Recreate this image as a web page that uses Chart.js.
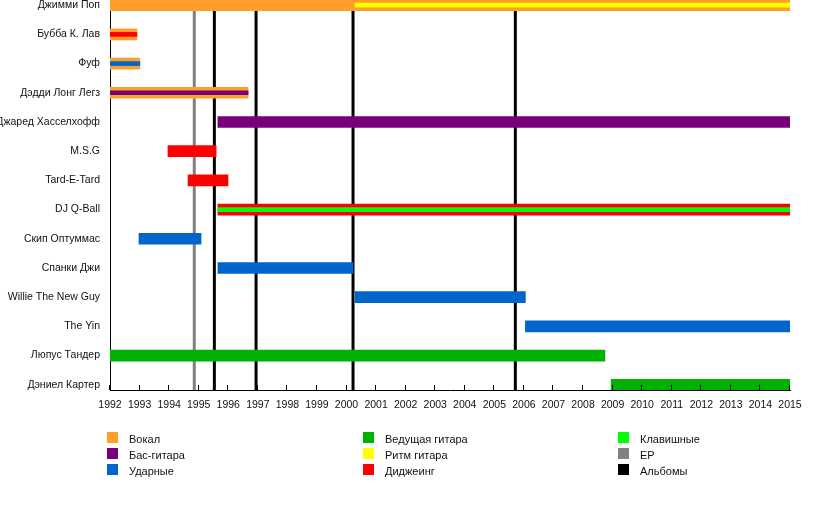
<!DOCTYPE html>
<html>
<head>
<meta charset="utf-8">
<script src="https://cdn.jsdelivr.net/npm/chart.js@4/dist/chart.umd.min.js"></script>
<style>
  html, body { margin: 0; padding: 0; background: #fff; }
  #wrap { position: relative; width: 818px; height: 508px; overflow: hidden; }
  canvas { position: absolute; left: 0; top: 0; }
  .lg { position: absolute; font-family: "Liberation Sans", Arial, sans-serif; font-size: 11px; color: #111; white-space: nowrap; line-height: 13px; }
  .sw { position: absolute; width: 11px; height: 11px; }
</style>
</head>
<body>
<div id="wrap">
  <canvas id="c" width="818" height="508"></canvas>
  <div id="legend"></div>
</div>
<script>
// ---- data ----
const members = ["Джимми Поп", "Бубба К. Лав", "Фуф", "Дэдди Лонг Легз", "Джаред Хасселхофф", "M.S.G", "Tard-E-Tard", "DJ Q-Ball", "Скип Оптуммас", "Спанки Джи", "Willie The New Guy", "The Yin", "Люпус Тандер", "Дэниел Картер"];
const yearTicks = [1992, 1993, 1994, 1995, 1996, 1997, 1998, 1999, 2000, 2001, 2002, 2003, 2004, 2005, 2006, 2007, 2008, 2009, 2010, 2011, 2012, 2013, 2014, 2015];

// main bars: [member, start, end]
const vocalSpans = [["Джимми Поп", 1992, 2015], ["Бубба К. Лав", 1992, 1992.91], ["Фуф", 1992, 1993.01], ["Дэдди Лонг Легз", 1992, 1996.67]];
const bassSpans = [["Джаред Хасселхофф", 1995.65, 2015]];
const djSpans = [["M.S.G", 1993.96, 1995.59], ["Tard-E-Tard", 1994.64, 1995.99], ["DJ Q-Ball", 1995.65, 2015]];
const drumSpans = [["Скип Оптуммас", 1992.98, 1995.08], ["Спанки Джи", 1995.65, 2000.22], ["Willie The New Guy", 2000.29, 2006.05], ["The Yin", 2006.05, 2015]];
const leadSpans = [["Люпус Тандер", 1992, 2008.74], ["Дэниел Картер", 2008.95, 2015]];

// secondary roles (thin stripes)
const rhythmStripes = [["Джимми Поп", 2000.29, 2015]];
const djStripes = [["Бубба К. Лав", 1992, 1992.91]];
const drumStripes = [["Фуф", 1992, 1993.01]];
const bassStripes = [["Дэдди Лонг Легз", 1992, 1996.67]];
const keysStripes = [["DJ Q-Ball", 1995.65, 2015]];

// release markers
const epYears = [1994.85];
const albumYears = [1995.53, 1996.94, 2000.22, 2005.71];

// legend
const legendLabels = [["Вокал", "Бас-гитара", "Ударные"], ["Ведущая гитара", "Ритм гитара", "Диджеинг"], ["Клавишные", "EP", "Альбомы"]];

// ---- styles ----
const C = {
  vocal: "rgb(255,159,41)", bass: "rgb(118,0,122)", drums: "rgb(0,102,204)",
  lead: "rgb(0,178,0)", rhythm: "rgb(255,255,0)", dj: "rgb(255,0,0)",
  keys: "rgb(0,255,0)", ep: "rgb(128,128,128)", album: "rgb(0,0,0)"
};
const legendColors = [[C.vocal, C.bass, C.drums], [C.lead, C.rhythm, C.dj], [C.keys, C.ep, C.album]];

function toData(spans) {
  return spans.map(s => ({ y: members.indexOf(s[0]), x: [s[1], s[2]] }));
}
function ds(label, spans, color, thick) {
  return { label, data: toData(spans), backgroundColor: color, barThickness: thick, grouped: false, borderWidth: 0, borderSkipped: false };
}

const datasets = [
  ds("Ритм гитара", rhythmStripes, C.rhythm, 4),
  ds("Диджеинг", djStripes, C.dj, 4),
  ds("Ударные", drumStripes, C.drums, 4),
  ds("Бас-гитара", bassStripes, C.bass, 4),
  ds("Клавишные", keysStripes, C.keys, 4),
  ds("Вокал", vocalSpans, C.vocal, 11),
  ds("Бас-гитара", bassSpans, C.bass, 11),
  ds("Диджеинг", djSpans, C.dj, 11),
  ds("Ударные", drumSpans, C.drums, 11),
  ds("Ведущая гитара", leadSpans, C.lead, 11)
];

const markerPlugin = {
  id: "markers",
  beforeDatasetsDraw(chart) {
    const { ctx, chartArea: a, scales: { x } } = chart;
    ctx.save();
    ctx.beginPath();
    ctx.rect(a.left, a.top, a.right - a.left, a.bottom - a.top);
    ctx.clip();
    ctx.lineWidth = 3;
    const draw = (yrs, col) => {
      ctx.strokeStyle = col;
      yrs.forEach(v => {
        const px = x.getPixelForValue(v);
        ctx.beginPath();
        ctx.moveTo(px, a.top);
        ctx.lineTo(px, a.bottom);
        ctx.stroke();
      });
    };
    draw(epYears, C.ep);
    draw(albumYears, C.album);
    ctx.restore();
  },
  afterDraw(chart) {
    const { ctx, chartArea: a, scales: { x } } = chart;
    ctx.save();
    ctx.strokeStyle = "#000";
    ctx.lineWidth = 1;
    yearTicks.forEach(v => {
      const px = Math.round(x.getPixelForValue(v)) - 0.5;
      ctx.beginPath();
      ctx.moveTo(px, a.bottom);
      ctx.lineTo(px, a.bottom - 5);
      ctx.stroke();
    });
    ctx.restore();
  }
};

const font = { family: "'Liberation Sans', Arial, sans-serif", size: 10.5 };

new Chart(document.getElementById("c"), {
  type: "bar",
  data: { datasets },
  plugins: [markerPlugin],
  options: {
    indexAxis: "y",
    responsive: false,
    animation: false,
    layout: { padding: { top: 0, right: 28, bottom: 0, left: 0 } },
    plugins: { legend: { display: false }, tooltip: { enabled: false }, title: { display: false } },
    scales: {
      x: {
        type: "linear",
        offset: false,
        min: 1992, max: 2015,
        afterBuildTicks: s => { s.ticks = yearTicks.map(v => ({ value: v })); },
        afterFit: s => { s.height = 118; s.paddingLeft = 0; s.paddingRight = 0; },
        grid: { display: false, drawTicks: false },
        border: { display: true, color: "#000", width: 1 },
        ticks: { autoSkip: false, maxRotation: 0, padding: 9, color: "#111", font, callback: v => String(v) }
      },
      y: {
        type: "linear",
        offset: false,
        reverse: true,
        min: -0.178, max: 13.18,
        afterBuildTicks: s => { s.ticks = members.map((_, i) => ({ value: i })); },
        afterFit: s => { s.width = 110; s.paddingTop = 0; s.paddingBottom = 0; },
        grid: { display: false, drawTicks: false },
        border: { display: true, color: "#000", width: 1 },
        ticks: { autoSkip: false, padding: 10, color: "#111", font, callback: v => members[v] }
      }
    }
  }
});

// legend (HTML text)
const colX = [107, 363, 618];
const rowY = [432, 448, 464];
const lg = document.getElementById("legend");
legendLabels.forEach((col, ci) => {
  col.forEach((lab, ri) => {
    const sw = document.createElement("div");
    sw.className = "sw";
    sw.style.left = colX[ci] + "px";
    sw.style.top = rowY[ri] + "px";
    sw.style.background = legendColors[ci][ri];
    lg.appendChild(sw);
    const t = document.createElement("div");
    t.className = "lg";
    t.style.left = (colX[ci] + 22) + "px";
    t.style.top = (rowY[ri] + 1) + "px";
    t.textContent = lab;
    lg.appendChild(t);
  });
});
</script>
</body>
</html>
